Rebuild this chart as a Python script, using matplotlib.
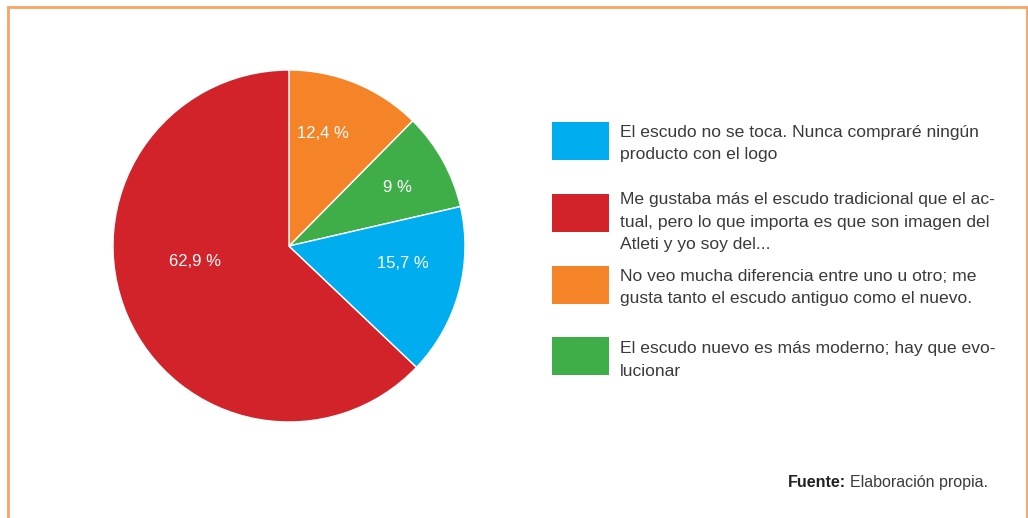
import matplotlib
matplotlib.use('Agg')
import matplotlib.pyplot as plt
from matplotlib.patches import Rectangle

# data
labels = ['El escudo nuevo es más moderno; hay que evo-\nlucionar',
          'No veo mucha diferencia entre uno u otro; me\ngusta tanto el escudo antiguo como el nuevo.',
          'Me gustaba más el escudo tradicional que el ac-\ntual, pero lo que importa es que son imagen del\nAtleti y yo soy del...',
          'El escudo no se toca. Nunca compraré ningún\nproducto con el logo']
values = [9.0, 12.4, 62.9, 15.7]
pct_text = ['9 %', '12,4 %', '62,9 %', '15,7 %']
colors = ['#3FAE49', '#F58428', '#D2232A', '#00AEEF']

# legend order (top to bottom)
legend_order = [3, 2, 1, 0]

plt.rcParams['font.family'] = ['Liberation Sans', 'DejaVu Sans']

W, H = 1028, 518
fig = plt.figure(figsize=(W / 100, H / 100), dpi=100)

# pie
cx, cy, r = 289, 246, 176
ax = fig.add_axes([(cx - r) / W, (H - cy - r) / H, 2 * r / W, 2 * r / H])
# clockwise from top: orange, green, blue, red
wedges, _ = ax.pie(values, colors=colors, startangle=90 - (values[0] + values[1]) * 3.6,
                   counterclock=True, wedgeprops=dict(edgecolor='white', linewidth=1))
ax.set_xlim(-1, 1)
ax.set_ylim(-1, 1)
ax.set_aspect('equal')
ax.axis('off')

# overlay in pixel coords (on top of the pie)
bg = fig.add_axes([0, 0, 1, 1])
bg.set_xlim(0, W)
bg.set_ylim(H, 0)
bg.axis('off')
bg.patch.set_alpha(0)

# orange frame (left, top, right)
frame_col = '#F6A565'
bg.plot([7.5, 7.5, 1026.5, 1026.5], [H, 7, 7, H], color=frame_col, lw=2, solid_joinstyle='miter')

# percentage labels (pixel positions)
pct_pos = [(397, 187), (323, 133), (195, 262), (403, 263)]
for t, (px, py) in zip(pct_text, pct_pos):
    bg.text(px, py, t, color='white', fontsize=12, ha='center', va='center')

# legend: first-line baseline per entry, one text per line
patch_top = [122, 194, 266, 337]
first_base = [137, 204, 281, 353]
line_step = 22.5
for k, idx in enumerate(legend_order):
    bg.add_patch(Rectangle((552, patch_top[k]), 57, 38, color=colors[idx], lw=0))
    for j, line in enumerate(labels[idx].split('\n')):
        bg.text(620, first_base[k] + j * line_step, line, color='#3a3a3a', fontsize=12.6,
                ha='left', va='baseline')

bg.text(788, 487, 'Fuente:', color='#222222', fontsize=11.5, fontweight='bold', ha='left', va='baseline')
bg.text(850, 487, 'Elaboración propia.', color='#3a3a3a', fontsize=11.5, ha='left', va='baseline')

fig.savefig('out.png', dpi=100)
